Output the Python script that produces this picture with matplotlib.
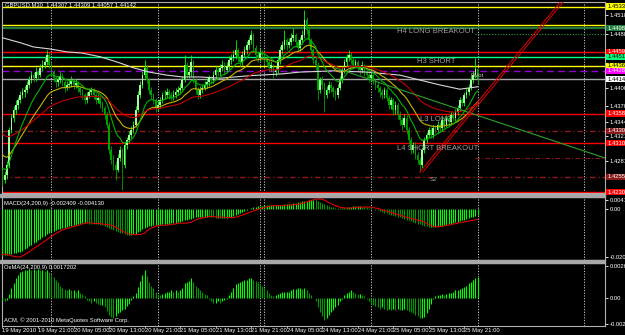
import numpy as np
import matplotlib

matplotlib.use("Agg")
import matplotlib.pyplot as plt
from matplotlib.patches import Rectangle

plt.rcParams["font.family"] = ["Liberation Sans Narrow", "Liberation Sans", "DejaVu Sans"]

# prices are stored in pips above 1.4000, indicators in units of 0.0001
first_open = 262
close = [250, 258, 274, 331, 351, 364, 372, 380, 389, 393,
         397, 405, 413, 421, 416, 426, 421, 433, 438, 442,
         454, 438, 426, 416, 410, 413, 420, 410, 400, 405,
         407, 413, 405, 408, 400, 393, 389, 380, 387, 393,
         397, 389, 380, 384, 374, 367, 356, 340, 299, 282,
         274, 266, 286, 299, 274, 307, 315, 323, 331, 340,
         364, 389, 405, 421, 433, 413, 397, 389, 380, 367,
         372, 380, 389, 389, 393, 389, 384, 389, 393, 397,
         400, 413, 438, 421, 426, 442, 413, 397, 389, 397,
         400, 405, 410, 416, 413, 421, 429, 426, 433, 438,
         429, 436, 446, 449, 454, 462, 449, 442, 454, 462,
         470, 478, 487, 465, 454, 449, 459, 454, 446, 442,
         433, 438, 426, 429, 446, 462, 470, 478, 470, 475,
         482, 487, 475, 465, 478, 487, 511, 495, 478, 462,
         446, 438, 397, 413, 405, 389, 397, 405, 400, 393,
         389, 400, 413, 429, 442, 449, 454, 446, 438, 442,
         433, 429, 438, 426, 421, 416, 421, 413, 405, 400,
         393, 389, 397, 384, 372, 380, 364, 372, 356, 348,
         340, 351, 331, 315, 299, 307, 291, 282, 274, 299,
         315, 323, 331, 323, 335, 331, 340, 335, 348, 340,
         351, 344, 356, 351, 361, 367, 380, 375, 389, 393,
         400, 413, 421, 431, 414.2]
high = [268, 265, 280, 336, 358, 370, 380, 386, 395, 400,
        404, 412, 420, 428, 426, 434, 430, 440, 446, 450,
        462, 458, 442, 430, 420, 420, 426, 424, 414, 412,
        414, 420, 416, 414, 412, 404, 398, 392, 394, 400,
        402, 400, 392, 390, 388, 378, 370, 360, 344, 305,
        290, 280, 292, 305, 302, 312, 320, 330, 338, 346,
        370, 395, 412, 428, 446, 438, 416, 402, 392, 384,
        378, 386, 394, 396, 400, 398, 394, 396, 400, 404,
        408, 420, 454, 442, 432, 454, 446, 416, 402, 404,
        406, 412, 416, 422, 420, 428, 436, 434, 440, 446,
        442, 442, 452, 456, 462, 478, 466, 452, 460, 468,
        476, 484, 495, 490, 470, 460, 466, 462, 458, 450,
        446, 444, 440, 436, 452, 468, 476, 495, 482, 482,
        490, 498, 490, 480, 484, 494, 527, 516, 500, 482,
        466, 452, 442, 418, 420, 410, 404, 412, 410, 404,
        398, 406, 420, 436, 448, 456, 462, 458, 450, 448,
        446, 438, 444, 440, 430, 426, 428, 424, 416, 410,
        404, 398, 402, 400, 388, 386, 384, 378, 376, 362,
        352, 358, 356, 336, 320, 312, 312, 296, 288, 304,
        320, 328, 336, 336, 340, 340, 346, 344, 354, 352,
        356, 356, 362, 360, 366, 372, 386, 384, 394, 400,
        406, 420, 428, 449, 430.9]
low = [240, 245, 252, 270, 326, 345, 358, 366, 375, 384,
       386, 392, 400, 408, 410, 412, 414, 418, 428, 432,
       438, 432, 420, 410, 402, 404, 408, 404, 394, 396,
       400, 402, 398, 400, 394, 388, 382, 374, 376, 384,
       388, 382, 374, 376, 368, 360, 350, 334, 292, 276,
       266, 250, 262, 280, 233, 270, 300, 310, 318, 326,
       336, 360, 384, 400, 416, 408, 390, 382, 374, 360,
       362, 368, 376, 382, 384, 382, 378, 380, 384, 388,
       392, 396, 410, 416, 416, 420, 408, 390, 382, 384,
       392, 396, 400, 404, 406, 408, 416, 420, 420, 428,
       422, 424, 430, 440, 444, 448, 442, 436, 438, 450,
       456, 464, 472, 460, 448, 442, 444, 448, 440, 436,
       428, 428, 416, 420, 424, 440, 456, 464, 462, 466,
       470, 476, 468, 458, 460, 472, 482, 488, 472, 456,
       440, 430, 380, 392, 398, 361, 384, 392, 394, 386,
       380, 384, 396, 408, 424, 436, 444, 440, 432, 434,
       428, 422, 424, 420, 414, 410, 410, 406, 398, 394,
       386, 382, 384, 378, 366, 366, 356, 358, 350, 340,
       332, 336, 324, 308, 292, 294, 284, 276, 262, 270,
       294, 310, 318, 318, 318, 326, 326, 330, 330, 334,
       336, 338, 340, 346, 346, 356, 362, 370, 370, 384,
       388, 396, 408, 416, 405.7]

# slow moving average (white line), read at a few bars
ma200_bars = [0, 8, 14, 21, 29, 36, 44, 52, 59, 66, 74, 81, 89, 98, 111,
              126, 134, 149, 164, 179, 188, 197, 206, 214]
ma200_pips = [482, 474, 467, 464, 459, 457, 451, 442, 433, 426, 421, 418, 418,
              416, 420, 423, 426, 428, 426, 421, 413, 405, 398, 402]

macd = [-194, -193, -192, -191, -189, -187, -185, -183, -181, -175,
        -169, -163, -157, -150, -143, -137, -131, -125, -119, -113,
        -106, -100, -96, -92, -88, -85, -82, -79, -77, -74,
        -72, -69, -67, -65, -62, -60, -58, -58, -59, -60,
        -61, -62, -63, -64, -66, -68, -71, -75, -79, -83,
        -87, -91, -95, -99, -102, -106, -109, -109, -108, -106,
        -103, -98, -92, -85, -78, -74, -71, -69, -67, -66,
        -66, -65, -64, -63, -62, -60, -59, -57, -56, -54,
        -52, -50, -47, -45, -42, -39, -36, -34, -33, -32,
        -31, -31, -31, -32, -33, -34, -35, -35, -36, -36,
        -36, -35, -33, -30, -26, -22, -18, -14, -10, -6,
        -2, 2, 6, 9, 11, 13, 15, 16, 17, 17,
        17, 17, 17, 18, 19, 20, 21, 22, 23, 24,
        25, 27, 28, 30, 32, 34, 36, 38, 39, 40,
        41, 40, 37, 33, 28, 22, 18, 15, 12, 10,
        8, 7, 6, 7, 8, 10, 11, 12, 13, 13,
        13, 13, 12, 11, 9, 7, 5, 2, -1, -4,
        -7, -10, -13, -16, -19, -22, -25, -28, -31, -34,
        -37, -40, -43, -46, -50, -53, -57, -61, -64, -67,
        -70, -72, -73, -73, -73, -73, -72, -71, -69, -67,
        -65, -63, -60, -57, -55, -52, -49, -47, -44, -41,
        -38, -34, -31, -28, -24.09]
osma = [-2, -3, -2, 3, 8, 12, 16, 19, 21, 22,
        23, 23, 24, 23, 24, 23, 24, 23, 23, 22,
        23, 21, 19, 17, 15, 13, 10, 8, 7, 6,
        7, 6, 6, 5, 6, 4, 3, 1, -2, -3,
        -4, -3, -4, -5, -6, -6, -8, -11, -14, -16,
        -17, -15, -13, -12, -10, -9, -7, -5, -2, 1,
        4, 9, 14, 19, 23, 18, 13, 10, 8, 5,
        3, 2, 3, 4, 5, 5, 6, 5, 6, 5,
        6, 8, 12, 13, 14, 16, 13, 10, 8, 6,
        5, 3, 2, -1, -3, -4, -4, -3, -4, -3,
        -2, -1, 2, 5, 8, 11, 12, 13, 14, 15,
        15, 16, 16, 15, 14, 13, 11, 10, 8, 6,
        4, 2, 1, 2, 3, 4, 5, 5, 5, 5,
        6, 7, 7, 8, 8, 7, 8, 6, 4, 2,
        0, -3, -8, -12, -15, -18, -17, -14, -12, -10,
        -8, -6, -3, -1, 2, 4, 5, 6, 5, 4,
        3, 3, 2, 1, -1, -3, -5, -6, -7, -8,
        -9, -8, -9, -10, -9, -10, -9, -10, -9, -10,
        -10, -9, -10, -11, -12, -13, -14, -15, -17, -17,
        -16, -13, -9, -5, -1, 1, 2, 2, 3, 2,
        3, 4, 4, 5, 6, 6, 7, 8, 9, 10,
        12, 13, 15, 16, 17.202]

# horizontal levels: price, colour, style
level_prices = [1.4533, 1.4503, 1.4498, 1.4459, 1.4451, 1.4436, 1.4428,
                1.44142, 1.4358, 1.4330, 1.4310, 1.4255, 1.4230]
level_colors = ["#FFFF00", "#FFFF00", "#1E7A3C", "#FF0000", "#00FF7F", "#FFFF00",
                "#9400D3", "#A8A8A8", "#FF0000", "#8B1A1A", "#FF0000", "#8B1A1A", "#FF0000"]
level_styles = ["-", "-", "-", "-", "-", "-", (0, (5, 3)), "-", "-", (0, (4, 2, 1, 2)),
                "-", (0, (4, 2, 1, 2)), "-"]
level_label_bg = ["#FFFF00", None, "#1E7A3C", "#FF0000", "#00FF7F", "#FFFF00", "#FF00FF",
                  "#FFFFFF", "#FF0000", "#8B1A1A", "#FF0000", "#8B1A1A", "#FF0000"]
level_label_fg = ["black", None, "white", "white", "black", "black", "white",
                  "black", "white", "white", "white", "white", "white"]

price_ticks = [1.45185, 1.44885, 1.44000, 1.43700, 1.43440, 1.43215, 1.42815]

tick_bars = [0, 16, 32, 48, 64, 80, 96, 112, 128, 144, 160, 176, 192, 208]
tick_labels = ["19 May 2010", "19 May 21:00", "20 May 05:00", "20 May 13:00",
               "20 May 21:00", "21 May 05:00", "21 May 13:00", "21 May 21:00",
               "24 May 05:00", "24 May 13:00", "24 May 21:00", "25 May 05:00",
               "25 May 13:00", "25 May 21:00"]
day_separators = [22, 70, 116, 118, 166, 214, 262]

green_trend = ([150, 271.4], [1.44327, 1.42856])
red_channel = ([188, 252], [1.42627, 1.45438])

FS = 4.2


def to_price(v):
    return 1.4 + np.asarray(v, dtype=float) / 10000.0


def ema(values, period, seed):
    alpha = 2.0 / (period + 1.0)
    out = np.empty(len(values))
    prev = seed
    for i, v in enumerate(values):
        prev += alpha * (v - prev)
        out[i] = prev
    return out


W, H = 625, 335
fig = plt.figure(figsize=(W / 100, H / 100), dpi=100, facecolor="black")


def add_panel(x0, y0, x1, y1):
    ax = fig.add_axes([x0 / W, 1 - y1 / H, (x1 - x0) / W, (y1 - y0) / H])
    ax.set_facecolor("black")
    for s in ax.spines.values():
        s.set_color("#B0B0B0")
        s.set_linewidth(0.8)
    ax.set_xlim(-0.225, 271.4)
    ax.set_xticks([])
    ax.yaxis.tick_right()
    ax.tick_params(axis="y", colors="white", length=2, width=0.6, labelsize=FS, pad=1.2)
    for k in day_separators:
        ax.axvline(k, color="#C8C8C8", lw=0.7, ls=(0, (1.2, 1.6)), zorder=1)
    return ax


bars = np.arange(len(close))
c = to_price(close)
o = to_price([first_open] + close[:-1])
h = to_price(high)
l = to_price(low)

# ---------------- main price panel ----------------
main = add_panel(2, 2, 605, 193)
main.set_ylim(1.42284, 1.45405)

for p, col, ls in zip(level_prices, level_colors, level_styles):
    lw = 1.6 if col == "#1E7A3C" else 1.0
    main.axhline(p, color=col, lw=lw, ls=ls, zorder=2)
main.hlines(1.44882, 213, 271.4, color="#1E9E3C", lw=0.8, ls=(0, (1, 1.5)), zorder=2)
main.hlines(1.42850, 213, 271.4, color="#8B1A1A", lw=0.8, ls=(0, (4, 2, 1, 2)), zorder=2)

up = c >= o
main.vlines(bars, l, h, colors=np.where(up, "#00FF00", "#00A400"), lw=0.6, zorder=3)
main.bar(bars, c - o, bottom=o, width=0.75, color=np.where(up, "#9CFF9C", "#00A400"),
         linewidth=0, zorder=3)

main.plot(ma200_bars, to_price(ma200_pips), color="#D8D8D8", lw=0.8, zorder=4)
main.plot(bars, to_price(ema(close, 24, 294)), color="#C8B400", lw=0.8, zorder=4)
main.plot(bars, to_price(ema(close, 50, 328)), color="#C00000", lw=0.8, zorder=4)
main.plot(bars, to_price(ema(close, 12, 272)), color="#00B400", lw=0.8, zorder=4)

main.plot(*green_trend, color="#2EA02E", lw=0.8, zorder=4)
main.plot(red_channel[0], red_channel[1], color="#E00000", lw=0.7, zorder=4)
main.plot(np.array(red_channel[0]) + 1.3, red_channel[1], color="#E00000", lw=0.7, zorder=4)

txt = dict(color="#A0A0A0", fontsize=5.5, va="center", zorder=5)
main.text(177.7, 1.44923, "H4 LONG BREAKOUT", **txt)
main.text(186.7, 1.44433, "H3 SHORT", **txt)
main.text(188.0, 1.43485, "L3 LONG", **txt)
main.text(177.7, 1.43003, "L4 SHORT BREAKOUT", **txt)
main.text(192.5, 1.42497, "S2", color="#A0A0A0", fontsize=FS, va="center", zorder=5)
main.text(211.0, 1.44212, "Pivot", color="#C8C8C8", fontsize=FS, va="center", zorder=5)

main.text(0.005, 0.984, "GBPUSD,M30  1.44307 1.44309 1.44057 1.44142", color="white",
          fontsize=FS, va="center", transform=main.transAxes)

main.set_yticks(price_ticks)
main.set_yticklabels([f"{p:.5f}" for p in price_ticks])

ytr = main.get_yaxis_transform()
for p, bg, fg in zip(level_prices, level_label_bg, level_label_fg):
    if bg is None:
        continue
    main.text(1.0035, p, f"{p:.5f}", color=fg, fontsize=FS, va="center", ha="left",
              transform=ytr, zorder=6,
              bbox=dict(boxstyle="square,pad=0.12", fc=bg, ec="none"))

# ---------------- MACD panel ----------------
macd_v = np.asarray(macd) / 10000.0
osma_v = np.asarray(osma) / 10000.0
signal_v = macd_v - osma_v

mac = add_panel(2, 197, 605, 259.5)
mac.set_ylim(-0.0213, 0.0053)
rising = np.concatenate([[True], np.diff(macd_v) >= 0])
mac.vlines(bars, 0, macd_v, colors=np.where(rising, "#00FF00", "#009A00"), lw=0.8, zorder=3)
mac.plot(bars, signal_v, color="#E00000", lw=0.8, zorder=4)
mac.set_yticks([0.00415, 0.0, -0.0203])
mac.set_yticklabels(["0.00415", "0.00", "-0.02030"])
mac.text(0.003, 0.9, "MACD(24,200,9) -0.002409 -0.004130", color="white", fontsize=FS,
         va="center", transform=mac.transAxes)

# ---------------- OsMA panel ----------------
osm = add_panel(2, 263, 605, 325.5)
osm.set_ylim(-0.00229, 0.00286)
o_rising = np.concatenate([[True], np.diff(osma_v) >= 0])
osm.vlines(bars, 0, osma_v, colors=np.where(o_rising, "#00FF00", "#009A00"), lw=0.8, zorder=3)
osm.set_yticks([0.00264, 0.0, -0.00215])
osm.set_yticklabels(["0.00264", "0.00", "-0.00215"])
osm.text(0.004, 0.92, "OsMA(24,200,9) 0.0017202", color="white", fontsize=FS,
         va="center", transform=osm.transAxes)
osm.text(0.004, 0.08, "ACM, \u00a9 2001-2010 MetaQuotes Software Corp.", color="white",
         fontsize=FS, va="center", transform=osm.transAxes)

osm.set_xticks(tick_bars)
osm.set_xticklabels(tick_labels)
osm.tick_params(axis="x", colors="#C0C0C0", labelcolor="white", length=1.6, width=0.6,
                labelsize=FS, pad=0.4)
for lbl in osm.get_xticklabels():
    lbl.set_ha("left")

# panel separators
for y0 in (194, 260):
    fig.patches.append(Rectangle((0, 1 - (y0 + 2.5) / H), 605 / W, 2.5 / H,
                                 transform=fig.transFigure, color="#A8A8A8", zorder=10))

fig.savefig("out.png", dpi=100, facecolor="black")
